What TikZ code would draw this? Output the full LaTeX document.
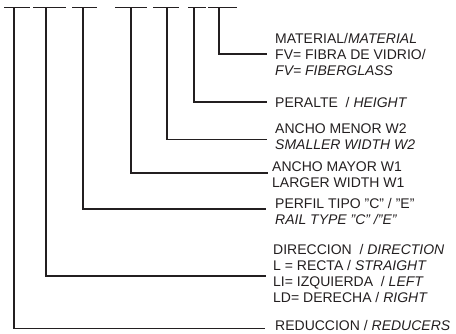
\documentclass[tikz,border=0pt]{standalone}
\usepackage{fontspec}
\setmainfont{Liberation Sans}
\definecolor{codeink}{HTML}{231F20}
\usetikzlibrary{positioning}

\begin{document}
\begin{tikzpicture}[
  x=1pt,
  y=-1pt,
  line join=miter,
  bar/.style={draw=codeink,line width=1.5pt},
  lead/.style={draw=codeink,line width=1.5pt},
  note/.style={anchor=west,inner sep=0pt,align=left,text=codeink,
    font=\fontsize{14}{16}\selectfont}
]
  \useasboundingbox (0,0) rectangle (456,333);

  % Code slots along the top, one bar per field.
  \draw[bar] (4,7.5) -- (30,7.5);
  \draw[bar] (33,7.5) -- (66,7.5);
  \draw[bar] (72,7.5) -- (97,7.5);
  \draw[bar] (115,7.5) -- (147,7.5);
  \draw[bar] (153,7.5) -- (179,7.5);
  \draw[bar] (188,7.5) -- (206,7.5);
  \draw[bar] (208,7.5) -- (237,7.5);

  % Drop points under each bar and the ends of the leaders.
  \coordinate (t1) at (14,7.5);   \coordinate (e1) at (265,328.5);
  \coordinate (t2) at (46,7.5);   \coordinate (e2) at (266,276);
  \coordinate (t3) at (83,7.5);   \coordinate (e3) at (266,209);
  \coordinate (t4) at (131,7.5);  \coordinate (e4) at (268,173);
  \coordinate (t5) at (167,7.5);  \coordinate (e5) at (267,139.5);
  \coordinate (t6) at (194,7.5);  \coordinate (e6) at (267,102);
  \coordinate (t7) at (219,7.5);  \coordinate (e7) at (267,54);

  % Field descriptions.
  \node[note] (mat) at (275,54.5) {MATERIAL/\textit{MATERIAL}\\FV= FIBRA DE VIDRIO/\\\textit{FV= FIBERGLASS}};
  \node[note] (hgt) at (275,102) {PERALTE\ \ / \textit{HEIGHT}};
  \node[note] (wsmall) at (275,137) {ANCHO MENOR W2\\\textit{SMALLER WIDTH W2}};
  \node[note] (wlarge) at (272,174.5) {ANCHO MAYOR W1\\LARGER WIDTH W1};
  \node[note] (rail) at (275,211.5) {PERFIL TIPO "C" / "E"\\\textit{RAIL TYPE "C" /"E"}};
  \node[note] (dir) at (273,273) {DIRECCION\ \ / \textit{DIRECTION}\\L = RECTA / \textit{STRAIGHT}\\LI= IZQUIERDA\ \ / \textit{LEFT}\\LD= DERECHA / \textit{RIGHT}};
  \node[note] (red) at (275,325) {REDUCCION / \textit{REDUCERS}};

  % Leaders: down from the bar, then across to the text.
  \foreach \i in {1,...,7} {
    \draw[lead] (t\i) |- (e\i);
  }
\end{tikzpicture}
\end{document}
